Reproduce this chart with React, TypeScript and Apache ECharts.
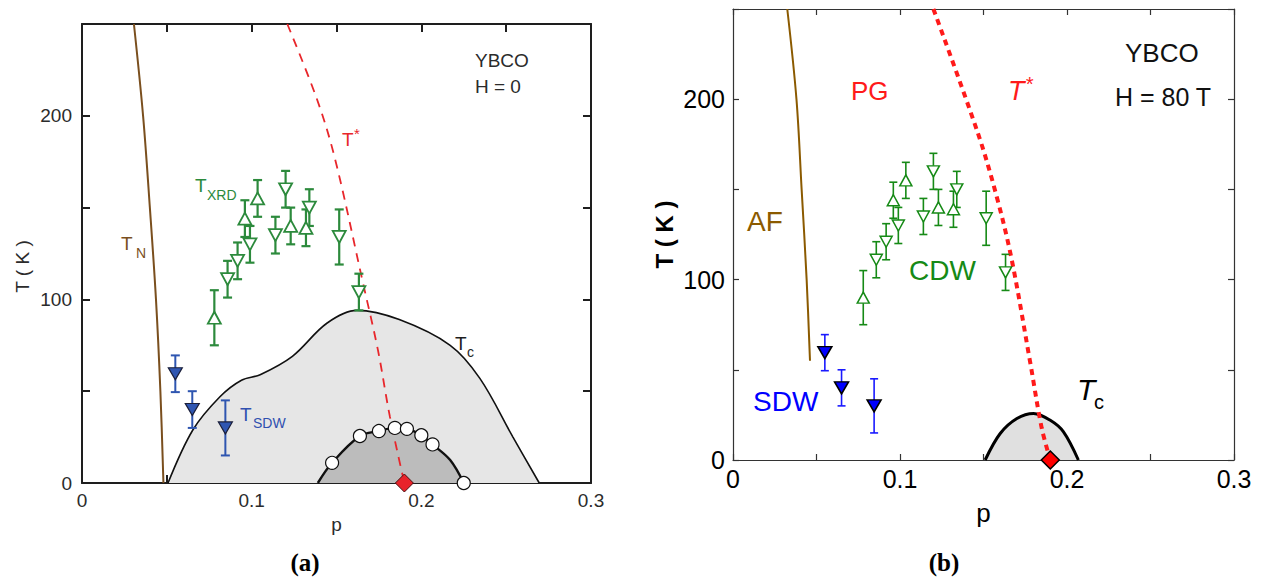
import React, { useEffect, useRef } from 'react';
import * as echarts from 'echarts';

// ---------- data (p = hole doping, T in K) ----------
const xTicksLabelled = [0, 0.1, 0.2, 0.3];
const yTicksLabelled = [0, 100, 200];

// Panel (a)
const tnP = [0.0306, 0.036, 0.040, 0.0436, 0.0462, 0.048];
const tnT = [250, 200, 150, 100, 50, 0];

const tStarAP = [0.121, 0.1385, 0.149, 0.1656, 0.1744, 0.1815, 0.19];
const tStarAT = [250, 209, 177, 109, 72.5, 36, 0];

const tcOuterP = [0.0507, 0.0654, 0.0813, 0.094, 0.105, 0.124, 0.1443, 0.162, 0.187, 0.217, 0.2345, 0.254, 0.2695];
const tcOuterT = [0, 29, 47, 56, 59, 69, 87, 94, 89, 75, 57, 25, 0];

const tcInnerP = [0.139, 0.1474, 0.1638, 0.175, 0.1844, 0.1915, 0.2, 0.2066, 0.217, 0.225];
const tcInnerT = [0, 11, 25.6, 28.3, 30, 29.5, 26, 21, 12.5, 0];

const circleP = [0.1474, 0.1638, 0.175, 0.1844, 0.1915, 0.2, 0.2066, 0.225];
const circleT = [11, 25.6, 28.3, 30, 29.5, 26, 21, 0];

// CDW (T_XRD) points, shared by both panels
const cdwUpP = [0.078, 0.096, 0.1035, 0.123, 0.132];
const cdwUpT = [90, 144, 155, 140, 139];
const cdwUpErr = [15, 10, 10, 10, 10];

const cdwDownP = [0.0858, 0.0917, 0.099, 0.114, 0.120, 0.134, 0.1516, 0.1632];
const cdwDownT = [111, 121, 130, 135, 160, 150, 134, 104];
const cdwDownErr = [10, 10, 10, 10, 10, 10, 15, 10];

// SDW points
const sdwP = [0.055, 0.065, 0.0845];
const sdwT = [59.5, 40, 30];
const sdwErr = [10, 10, 15];

// p* where T* ends
const pStarP = [0.19];
const pStarT = [0];

// Panel (b)
const afP = [0.0325, 0.038, 0.0411, 0.0441, 0.0461];
const afT = [250, 200, 150, 100, 55];

const tStarBP = [0.12, 0.1467, 0.1579, 0.1669, 0.1778, 0.1848, 0.19];
const tStarBT = [250, 181, 146, 111, 55, 18, 0];

const tcBP = [0.151, 0.16, 0.17, 0.18, 0.19, 0.1978, 0.2068];
const tcBT = [0, 14.7, 23, 25.8, 22, 15.7, 0];

// ---------- helpers ----------
const SANS = "'Liberation Sans', Arial, Helvetica, sans-serif";
const SERIF = "'Liberation Serif', 'DejaVu Serif', serif";

const zip = (a: number[], b: number[]) => a.map((v, i) => [v, b[i]]);
const errData = (p: number[], t: number[], e: number[]) => p.map((v, i) => [v, t[i] - e[i], t[i] + e[i]]);

const fmtX = (v: number) => {
  const r = Math.round(v * 100);
  const hit = xTicksLabelled.find((t) => Math.round(t * 100) === r);
  return hit === undefined ? '' : hit === 0 ? '0' : hit.toFixed(1);
};
const fmtY = (v: number) => {
  const r = Math.round(v);
  return yTicksLabelled.includes(r) ? String(r) : '';
};

interface AxCfg {
  grid: number;
  lineColor: string;
  lineWidth: number;
  tickLen: number;
  tickWidth: number;
  labelSize: number;
  labelColor: string;
  labelMarginX: number;
  labelMarginY: number;
  xName: { size: number; gap: number; weight: string; color: string };
  yName: { size: number; gap: number; weight: string; color: string; padding: number[] };
}

function makeAxes(c: AxCfg) {
  const line = { show: true, onZero: false, lineStyle: { color: c.lineColor, width: c.lineWidth } };
  const tick = { show: true, inside: true, length: c.tickLen, lineStyle: { color: c.lineColor, width: c.tickWidth } };
  const xBase = { type: 'value', gridIndex: c.grid, min: 0, max: 0.3, interval: 0.05, axisLine: line, axisTick: tick, splitLine: { show: false } };
  const yBase = { type: 'value', gridIndex: c.grid, min: 0, max: 250, interval: 50, axisLine: line, axisTick: tick, splitLine: { show: false } };
  const x = [
    {
      ...xBase,
      position: 'bottom',
      axisLabel: { formatter: fmtX, fontSize: c.labelSize, color: c.labelColor, fontFamily: SANS, margin: c.labelMarginX },
      name: 'p',
      nameLocation: 'middle',
      nameGap: c.xName.gap,
      nameTextStyle: { fontSize: c.xName.size, fontWeight: c.xName.weight, color: c.xName.color, fontFamily: SANS },
    },
    { ...xBase, position: 'top', axisLabel: { show: false } },
  ];
  const y = [
    {
      ...yBase,
      position: 'left',
      axisLabel: { formatter: fmtY, fontSize: c.labelSize, color: c.labelColor, fontFamily: SANS, margin: c.labelMarginY },
      name: 'T ( K )',
      nameLocation: 'middle',
      nameGap: c.yName.gap,
      nameRotate: 90,
      nameTextStyle: { fontSize: c.yName.size, fontWeight: c.yName.weight, color: c.yName.color, fontFamily: SANS, padding: c.yName.padding },
    },
    { ...yBase, position: 'right', axisLabel: { show: false } },
  ];
  return { x, y };
}

function curve(ai: number, p: number[], t: number[], color: string, width: number, type: any, area?: string, z = 2) {
  return {
    type: 'line',
    xAxisIndex: ai,
    yAxisIndex: ai,
    data: zip(p, t),
    smooth: 0.35,
    showSymbol: false,
    symbol: 'none',
    silent: true,
    z,
    lineStyle: { color, width, type, cap: 'butt' },
    areaStyle: area ? { color: area, opacity: 1 } : undefined,
  };
}

function errSeries(ai: number, data: number[][], color: string, width: number, cap: number) {
  return {
    type: 'custom',
    xAxisIndex: ai,
    yAxisIndex: ai,
    data,
    encode: { x: 0, y: [1, 2] },
    silent: true,
    z: 4,
    renderItem: (_params: any, api: any) => {
      const p = api.value(0);
      const a = api.coord([p, api.value(1)]);
      const b = api.coord([p, api.value(2)]);
      const st = { stroke: color, lineWidth: width };
      return {
        type: 'group',
        children: [
          { type: 'line', shape: { x1: a[0], y1: a[1], x2: b[0], y2: b[1] }, style: st },
          { type: 'line', shape: { x1: a[0] - cap, y1: a[1], x2: a[0] + cap, y2: a[1] }, style: st },
          { type: 'line', shape: { x1: b[0] - cap, y1: b[1], x2: b[0] + cap, y2: b[1] }, style: st },
        ],
      };
    },
  };
}

function marks(ai: number, p: number[], t: number[], symbol: string, size: any, rotate: number, fill: string, border: string, bw: number, z = 5) {
  return {
    type: 'scatter',
    xAxisIndex: ai,
    yAxisIndex: ai,
    data: zip(p, t),
    symbol,
    symbolSize: size,
    symbolRotate: rotate,
    silent: true,
    z,
    itemStyle: { color: fill, borderColor: border, borderWidth: bw, opacity: 1 },
  };
}

function txt(x: number, y: number, text: string, size: number, color: string, opts: any = {}) {
  const font = `${opts.italic ? 'italic ' : ''}${opts.weight || 'normal'} ${size}px ${opts.family || SANS}`;
  return {
    type: 'text',
    x,
    y,
    rotation: opts.rotation || 0,
    silent: true,
    z: 100,
    style: {
      text,
      font,
      fill: color,
      align: opts.align || 'left',
      verticalAlign: 'middle',
      textAlign: opts.align || 'left',
      textVerticalAlign: 'middle',
    },
  };
}

function buildOption() {
  const A = makeAxes({
    grid: 0, lineColor: '#1e1e1e', lineWidth: 2, tickLen: 8, tickWidth: 2,
    labelSize: 19, labelColor: '#2b2b2b', labelMarginX: 8, labelMarginY: 10,
    xName: { size: 19, gap: 24, weight: 'normal', color: '#2b2b2b' },
    yName: { size: 19, gap: 50, weight: 'normal', color: '#2b2b2b', padding: [0, 26, 0, 0] },
  });
  const B = makeAxes({
    grid: 1, lineColor: '#333333', lineWidth: 1.2, tickLen: 6, tickWidth: 1.2,
    labelSize: 25, labelColor: '#000000', labelMarginX: 6, labelMarginY: 8,
    xName: { size: 26, gap: 40, weight: 'normal', color: '#000000' },
    yName: { size: 24, gap: 57, weight: 'bold', color: '#000000', padding: [0, 0, 0, 0] },
  });

  const gA = '#2c8a3c';
  const gB = '#168a16';

  const series: any[] = [
    // ----- panel (a), axis index 0 -----
    curve(0, tcOuterP, tcOuterT, '#111111', 1.6, 'solid', '#e6e6e6', 1),
    curve(0, tcInnerP, tcInnerT, '#111111', 2.4, 'solid', '#bcbcbc', 2),
    curve(0, tnP, tnT, '#7a4f1e', 2, 'solid', undefined, 3),
    curve(0, tStarAP, tStarAT, '#e8262b', 1.8, [9, 7], undefined, 3),
    errSeries(0, errData(cdwUpP, cdwUpT, cdwUpErr), gA, 2.2, 4.5),
    errSeries(0, errData(cdwDownP, cdwDownT, cdwDownErr), gA, 2.2, 4.5),
    errSeries(0, errData(sdwP, sdwT, sdwErr), '#2e55b0', 2, 4.5),
    marks(0, cdwUpP, cdwUpT, 'triangle', [13, 12], 0, '#ffffff', gA, 1.8),
    marks(0, cdwDownP, cdwDownT, 'triangle', [13, 12], 180, '#ffffff', gA, 1.8),
    marks(0, sdwP, sdwT, 'triangle', [14, 12], 180, '#2f56b2', '#1b1f3a', 1.2),
    marks(0, circleP, circleT, 'circle', 13, 0, '#ffffff', '#111111', 1.2, 6),
    marks(0, pStarP, pStarT, 'diamond', 18, 0, '#e8232a', '#4a1010', 1, 7),

    // ----- panel (b), axis index 2 -----
    curve(2, tcBP, tcBT, '#000000', 3, 'solid', '#e0e0e0', 1),
    curve(2, afP, afT, '#8b5a00', 2, 'solid', undefined, 3),
    curve(2, tStarBP, tStarBT, '#ff1a1a', 4, [6, 5], undefined, 3),
    errSeries(2, errData(cdwUpP, cdwUpT, cdwUpErr), gB, 1.6, 4),
    errSeries(2, errData(cdwDownP, cdwDownT, cdwDownErr), gB, 1.6, 4),
    errSeries(2, errData(sdwP, sdwT, sdwErr), '#1a1aff', 1.6, 4),
    marks(2, cdwUpP, cdwUpT, 'triangle', [12, 11], 0, '#ffffff', gB, 1.5),
    marks(2, cdwDownP, cdwDownT, 'triangle', [12, 11], 180, '#ffffff', gB, 1.5),
    marks(2, sdwP, sdwT, 'triangle', [14, 12], 180, '#0000ff', '#000000', 1.5),
    marks(2, pStarP, pStarT, 'diamond', 18, 0, '#ff0000', '#000000', 1.5, 7),
  ];

  const graphic = [
    // panel (a)
    txt(475, 60, 'YBCO', 19, '#2b2b2b'),
    txt(475, 86, 'H = 0', 19, '#2b2b2b'),
    txt(342, 139, 'T', 19, '#e8262b'),
    txt(354, 133, '*', 15, '#e8262b'),
    txt(195, 185, 'T', 19, gA),
    txt(207, 195, 'XRD', 14, gA),
    txt(121, 243, 'T', 19, '#7a4f1e'),
    txt(136, 253, 'N', 14, '#7a4f1e'),
    txt(240, 414, 'T', 19, '#3050b0'),
    txt(253, 423, 'SDW', 14, '#3050b0'),
    txt(455, 343, 'T', 19, '#1e1e1e'),
    txt(467, 352, 'c', 14, '#1e1e1e'),
    txt(305, 562, '(a)', 25, '#000000', { family: SERIF, weight: 'bold', align: 'center' }),
    // panel (b)
    txt(1125, 53, 'YBCO', 26, '#111111'),
    txt(1115, 97, 'H = 80 T', 25, '#111111'),
    txt(851, 91, 'PG', 26, '#ff1a1a'),
    txt(1008, 91, 'T', 27, '#ff1a1a', { italic: true }),
    txt(1025, 84, '*', 20, '#ff1a1a', { italic: true }),
    txt(747, 221, 'AF', 28, '#8b5a00'),
    txt(909, 270, 'CDW', 28, '#168a16'),
    txt(753, 401, 'SDW', 28, '#0000ff'),
    txt(1077, 389, 'T', 30, '#000000', { italic: true }),
    txt(1094, 402, 'c', 20, '#000000'),
    txt(944, 562, '(b)', 25, '#000000', { family: SERIF, weight: 'bold', align: 'center' }),
  ];

  return {
    animation: false,
    backgroundColor: '#ffffff',
    grid: [
      { left: 82, top: 24, width: 509, height: 459, containLabel: false },
      { left: 733, top: 9, width: 501, height: 451, containLabel: false },
    ],
    xAxis: [...A.x, ...B.x],
    yAxis: [...A.y, ...B.y],
    series,
    graphic,
  };
}

export default function App() {
  const ref = useRef<HTMLDivElement>(null);
  useEffect(() => {
    if (!ref.current) return;
    const chart = echarts.init(ref.current, null, { renderer: 'svg' });
    chart.setOption(buildOption() as any);
    return () => chart.dispose();
  }, []);
  return <div ref={ref} style={{ position: 'absolute', left: 0, top: 0, width: 1269, height: 578 }} />;
}
